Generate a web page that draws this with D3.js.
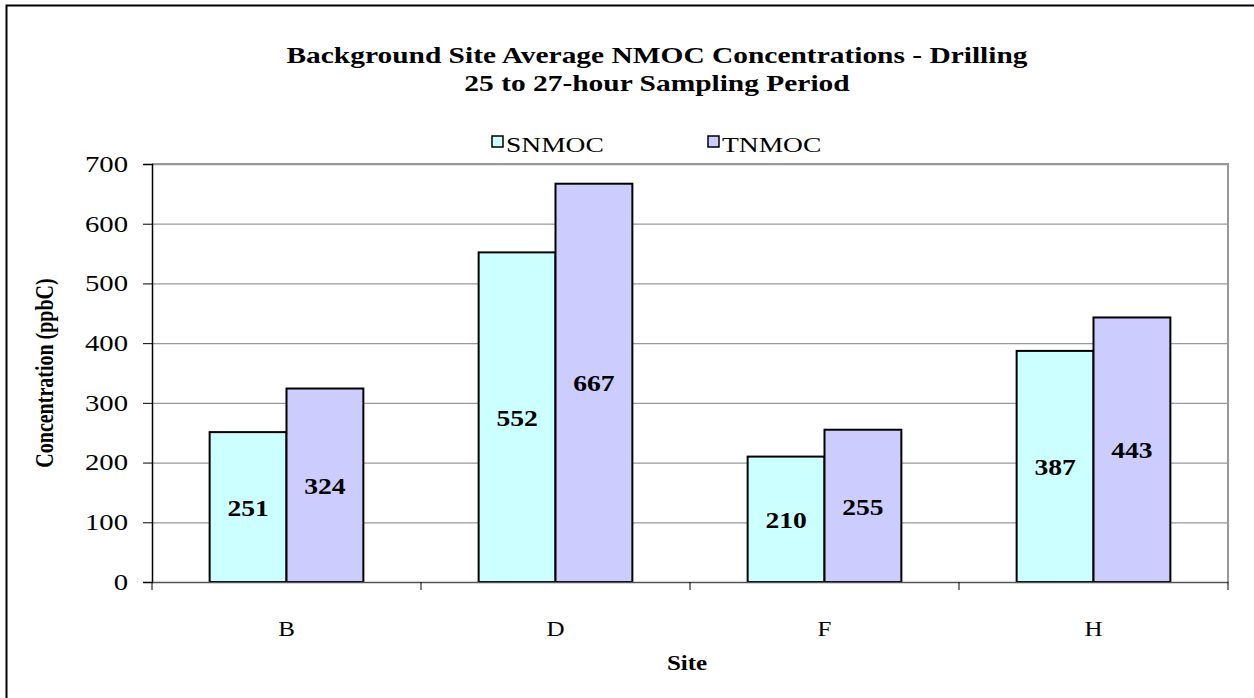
<!DOCTYPE html>
<html><head><meta charset="utf-8">
<script src="https://cdn.jsdelivr.net/npm/d3@7"></script>
<style>body{margin:0;background:#fff}svg{display:block}text{font-family:"Liberation Serif","Times New Roman",serif;fill:#000}</style>
</head><body>
<svg id="c" width="1254" height="698"></svg>
<script>
const sites = ["B","D","F","H"];
const seriesNames = ["SNMOC","TNMOC"];
const snmoc = [251,552,210,387];
const tnmoc = [324,667,255,443];
const yTicks = [0,100,200,300,400,500,600,700];
const colors = ["#CCFFFF","#CCCCFF"];

const K = 1.25; // horizontal stretch of glyphs in the reference
const svg = d3.select("#c");
const L=152,R=1228,T=164,B=582;
svg.append("rect").attr("x",6.5).attr("y",5.5).attr("width",1300).attr("height",800).attr("fill","#fff").attr("stroke","#000").attr("stroke-width",2);

function stext(x,y,str,size,opts={}){
  const g = svg.append("g").attr("transform",`translate(${x},${y})${opts.rot?` rotate(${opts.rot})`:""}`);
  const t = g.append("text").attr("font-size",size).attr("text-anchor",opts.anchor||"middle")
    .attr("font-weight",opts.bold?"bold":"normal").text(str);
  if(opts.rot) t.attr("transform",`scale(1,${opts.k||K})`); else t.attr("transform",`scale(${opts.k||K},1)`);
  if(opts.dy) t.attr("dy",opts.dy);
  return t;
}

const x = d3.scaleBand().domain(sites).range([L,R]);
const xs = d3.scaleBand().domain(seriesNames).range([0,x.bandwidth()]).paddingInner(0).paddingOuter(0.75);
const y = d3.scaleLinear().domain([0,700]).range([B,T]);

// gridlines
svg.append("g").selectAll("line").data(yTicks.slice(1)).join("line")
 .attr("x1",L).attr("x2",R).attr("y1",d=>y(d)+0.5).attr("y2",d=>y(d)+0.5).attr("stroke","#999").attr("stroke-width",1.3);
svg.append("line").attr("x1",R).attr("x2",R).attr("y1",T).attr("y2",B).attr("stroke","#999").attr("stroke-width",2);
svg.append("line").attr("x1",L).attr("x2",R+1).attr("y1",T).attr("y2",T).attr("stroke","#999").attr("stroke-width",2);

const data = sites.map((s,i)=>({site:s,vals:[snmoc[i],tnmoc[i]]}));
data.forEach(d=>{
  d.vals.forEach((v,j)=>{
    const bx = x(d.site)+xs(seriesNames[j]);
    svg.append("rect").attr("x",bx).attr("y",y(v)).attr("width",xs.bandwidth()).attr("height",B-y(v))
     .attr("fill",colors[j]).attr("stroke","#000").attr("stroke-width",2);
  });
});
data.forEach(d=>{
  d.vals.forEach((v,j)=>{
    const bx = x(d.site)+xs(seriesNames[j]);
    stext(bx+xs.bandwidth()/2,(y(v)+B)/2,v,24,{bold:true,dy:"0.36em",k:1.15});
  });
});

// axes
const ya = d3.axisLeft(y).tickValues(yTicks).tickSize(9).tickPadding(24);
const yg = svg.append("g").attr("transform",`translate(${L},0)`).call(ya);
yg.select(".domain").attr("stroke","#000").attr("stroke-width",1.5);
yg.selectAll(".tick line").attr("stroke","#000");
yg.selectAll("text").attr("font-size",23).attr("fill","#000").style("font-family","Liberation Serif")
  .attr("x",-24/K).attr("transform",`scale(${K},1)`);

const xa = d3.axisBottom(x).tickSize(0).tickPadding(40);
const xg = svg.append("g").attr("transform",`translate(0,${B})`).call(xa);
xg.select(".domain").attr("stroke","#555").attr("stroke-width",1.5);
xg.selectAll("text").attr("font-size",20).attr("fill","#000").style("font-family","Liberation Serif")
  .attr("transform",`scale(${K},1)`);
svg.append("g").selectAll("line").data(sites.concat(["end"])).join("line")
 .attr("x1",(d,i)=>L+i*x.step()).attr("x2",(d,i)=>L+i*x.step()).attr("y1",B).attr("y2",B+8).attr("stroke","#000");

// titles
stext(657,63,"Background Site Average NMOC Concentrations - Drilling",23,{bold:true,k:1.28});
stext(657,91,"25 to 27-hour Sampling Period",23,{bold:true,k:1.28});
stext(687,670,"Site",20,{bold:true});
stext(53,373,"Concentration (ppbC)",20,{bold:true,rot:-90});

// legend
const lx=[492,708];
seriesNames.forEach((n,i)=>{
  svg.append("rect").attr("x",lx[i]).attr("y",136).attr("width",11).attr("height",11).attr("fill",colors[i]).attr("stroke","#000").attr("stroke-width",1.5);
  stext(lx[i]+14,152,n,22,{anchor:"start"});
});
</script>
</body></html>
